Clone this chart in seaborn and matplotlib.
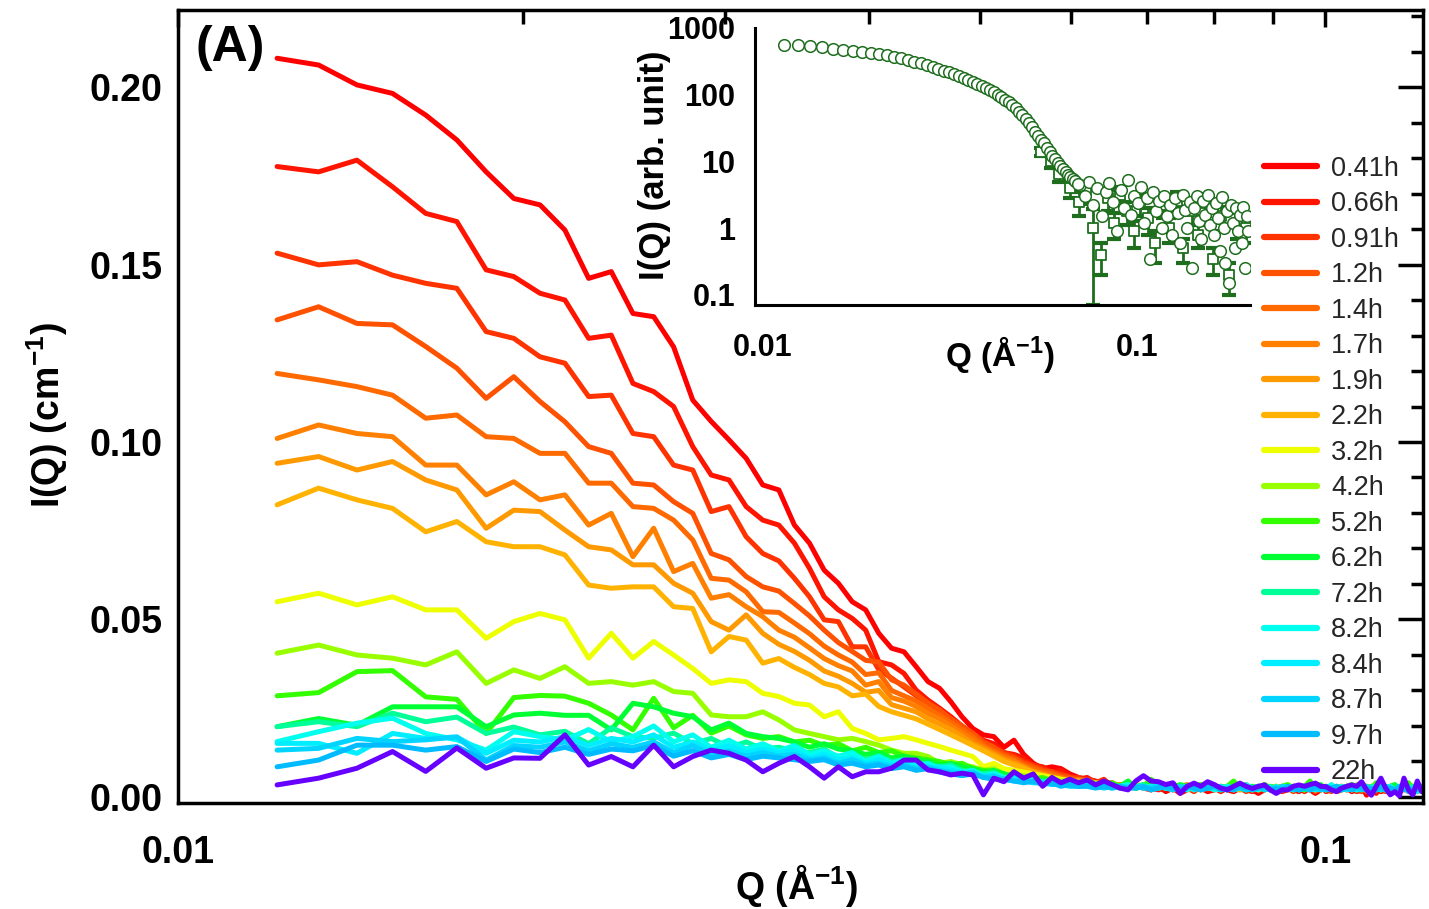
import numpy as np
import pandas as pd
import matplotlib
matplotlib.use("Agg")
import matplotlib.pyplot as plt
import seaborn as sns
from matplotlib.lines import Line2D
from matplotlib.ticker import FixedLocator, MultipleLocator, NullFormatter, NullLocator

sns.set_theme(style="white")
plt.rcParams['font.family'] = ['Liberation Sans', 'DejaVu Sans']
plt.rcParams['mathtext.fontset'] = 'custom'
plt.rcParams['mathtext.rm'] = 'Liberation Sans:bold'
plt.rcParams['mathtext.it'] = 'Liberation Sans:bold'
plt.rcParams['mathtext.bf'] = 'Liberation Sans:bold'
plt.rcParams['mathtext.default'] = 'rm'

# ---------------- main panel data (Q in 1/A, I in 1e-3 cm^-1) ----------------
Q = [0.01220, 0.01326, 0.01432, 0.01538, 0.01644, 0.01750, 0.01856, 0.01962, 0.02068, 0.02174,
     0.02280, 0.02386, 0.02492, 0.02598, 0.02704, 0.02810, 0.02916, 0.03022, 0.03128, 0.03234,
     0.03340, 0.03446, 0.03552, 0.03658, 0.03764, 0.03870, 0.03976, 0.04082, 0.04188, 0.04294,
     0.04400, 0.04506, 0.04612, 0.04718, 0.04824, 0.04930, 0.05036, 0.05142, 0.05248, 0.05354,
     0.05460, 0.05566, 0.05672, 0.05778, 0.05884, 0.05990, 0.06096, 0.06202, 0.06308, 0.06414,
     0.06520, 0.06626, 0.06732, 0.06838, 0.06944, 0.07050, 0.07156, 0.07262, 0.07368, 0.07474,
     0.07580, 0.07686, 0.07792, 0.07898, 0.08004, 0.08110, 0.08216, 0.08322, 0.08428, 0.08534,
     0.08640, 0.08746, 0.08852, 0.08958, 0.09064, 0.09170, 0.09276, 0.09382, 0.09488, 0.09594,
     0.09700, 0.09806, 0.09912, 0.10018, 0.10124, 0.10230, 0.10336, 0.10442, 0.10548, 0.10654,
     0.10760, 0.10866, 0.10972, 0.11078, 0.11184, 0.11290, 0.11396, 0.11502, 0.11608, 0.11714,
     0.11820, 0.11926, 0.12032, 0.12138]

times = ['0.41h', '0.66h', '0.91h', '1.2h', '1.4h', '1.7h', '1.9h', '2.2h', '3.2h',
         '4.2h', '5.2h', '6.2h', '7.2h', '8.2h', '8.4h', '8.7h', '9.7h', '22h']

colors = ['#ff0000', '#ff1400', '#ff3300', '#ff5200', '#ff6a00', '#ff8000', '#ff9900',
          '#ffb300', '#eeff00', '#99ff00', '#33ff00', '#00ff33', '#00ff99', '#00ffee',
          '#00eeff', '#00d4ff', '#00bbff', '#6600ff']

i_041 = [208.1, 206.2, 200.6, 198.2, 192.1, 185.1, 176.1, 168.6, 166.8, 159.7,
         146.1, 148.0, 136.2, 135.3, 126.8, 111.8, 105.8, 100.6, 95.4, 87.9,
         86.5, 76.6, 71.5, 63.9, 60.2, 55.0, 52.7, 46.1, 41.9, 40.9,
         36.7, 32.5, 30.6, 26.8, 22.6, 19.3, 17.5, 17.0, 14.0, 16.0,
         12.0, 9.5, 8.0, 8.5, 8.0, 6.5,
         5.5, 5.0, 4.5, 3.5, 4.0, 2.5, 3.0, 3.5, 2.5, 2.0,
         3.0, 1.5, 2.5, 1.0, 2.0, 3.0, 2.5, 1.5, 2.0, 3.0,
         2.0, 1.5, 2.5, 3.0, 2.0, 1.0, 2.0, 2.5, 1.5, 2.0,
         3.0, 2.0, 1.5, 2.5, 2.0, 1.0, 2.0, 2.5, 3.0, 1.5,
         2.0, 2.5, 1.5, 2.0, 3.0, 0.5, 2.0, 2.5, 1.5, 2.0,
         3.0, 2.0, 1.5, 2.5, 2.0, 1.0, 2.5, 2.0]
i_066 = [177.6, 176.1, 179.4, 171.9, 164.4, 162.1, 148.5, 146.6, 141.9, 140.0,
         129.2, 130.1, 116.5, 114.2, 110.0, 98.7, 90.7, 89.3, 81.8, 78.0,
         76.6, 71.5, 64.4, 56.4, 52.7, 50.3, 47.0, 38.1, 37.2, 34.8,
         30.1, 27.3, 25.0, 22.6, 20.0, 18.0, 16.0, 15.0, 12.5, 12.0,
         11.0, 9.0, 8.5, 7.0, 7.5, 6.0,
         5.0, 5.5, 4.0, 4.5, 3.5, 3.0, 2.5, 3.5, 3.0, 2.5,
         2.0, 2.5, 3.0, 1.5, 2.5, 2.0, 3.0, 2.0, 2.5, 1.5,
         2.5, 2.0, 3.0, 2.0, 1.5, 2.5, 3.0, 2.0, 2.5, 1.5,
         2.0, 3.0, 2.5, 1.5, 2.5, 2.0, 3.0, 1.5, 2.0, 2.5,
         3.0, 2.0, 2.5, 1.5, 2.0, 3.0, 2.5, 1.0, 2.5, 3.0,
         2.0, 2.5, 1.5, 3.0, 2.0, 2.5, 1.5, 2.5]
i_091 = [153.2, 149.9, 150.8, 147.0, 144.7, 143.3, 131.1, 129.2, 124.0, 122.2,
         112.8, 113.2, 102.4, 101.5, 93.5, 92.1, 80.4, 81.8, 73.3, 68.6,
         66.5, 61.6, 56.4, 49.9, 49.4, 42.3, 42.3, 35.8, 33.5, 31.0,
         28.5, 26.0, 24.0, 22.0, 19.5, 17.5, 15.5, 14.0, 12.5, 11.5,
         10.0, 9.0, 8.0, 7.0, 6.5, 5.5,
         5.5, 4.5, 4.0, 5.0, 3.0, 3.5, 3.0, 2.5, 3.5, 2.0,
         3.0, 2.5, 2.0, 3.0, 2.5, 1.5, 3.0, 2.5, 2.0, 3.0,
         2.0, 3.0, 2.5, 1.5, 2.5, 3.0, 2.0, 2.5, 3.0, 2.0,
         2.5, 1.5, 3.0, 2.5, 2.0, 3.0, 2.0, 2.5, 1.5, 3.0,
         2.5, 2.0, 3.0, 2.0, 1.5, 2.5, 3.0, 2.0, 2.5, 1.5,
         2.5, 3.0, 2.0, 2.5, 1.5, 3.0, 2.0, 2.5]
i_12 = [134.4, 138.1, 133.4, 133.0, 126.9, 120.8, 112.3, 118.4, 111.4, 105.7,
        98.7, 96.8, 88.4, 87.9, 83.2, 79.9, 68.6, 66.8, 62.1, 59.2,
        58.0, 54.5, 51.0, 47.0, 43.5, 41.0, 38.5, 38.0, 33.0, 31.5,
        29.0, 26.5, 24.5, 22.0, 20.0, 18.0, 15.5, 14.0, 12.0, 11.0,
        9.5, 8.5, 7.5, 7.0, 6.0, 5.5,
        4.5, 5.0, 4.0, 3.5, 4.0, 3.0, 3.5, 2.5, 3.0, 3.5,
        2.5, 3.0, 2.0, 3.0, 2.5, 3.0, 2.0, 3.5, 2.5, 2.0,
        3.0, 2.5, 2.0, 3.0, 2.5, 2.0, 3.5, 2.5, 2.0, 3.0,
        2.5, 3.0, 2.0, 2.5, 3.0, 1.5, 2.5, 3.0, 2.0, 2.5,
        3.0, 2.5, 2.0, 3.0, 2.5, 1.5, 3.0, 2.5, 2.0, 3.0,
        2.0, 2.5, 3.0, 2.0, 2.5, 3.0, 1.5, 2.5]
i_14 = [119.3, 117.5, 115.6, 113.2, 106.7, 107.6, 101.5, 101.0, 96.8, 96.8,
        88.4, 88.4, 81.8, 81.3, 78.0, 72.4, 61.6, 61.1, 57.8, 52.2,
        52.0, 49.0, 46.0, 42.5, 40.0, 38.0, 34.5, 35.0, 30.0, 28.5,
        27.0, 25.0, 23.0, 21.0, 19.0, 17.0, 14.5, 13.0, 11.5, 10.5,
        9.0, 8.0, 7.0, 6.5, 5.5, 5.0,
        5.0, 4.5, 4.0, 4.0, 3.5, 3.5, 3.0, 3.5, 2.5, 3.0,
        3.0, 2.5, 3.5, 2.5, 2.0, 3.0, 2.5, 3.0, 2.0, 2.5,
        3.0, 2.0, 2.5, 3.5, 2.0, 2.5, 3.0, 2.0, 2.5, 3.0,
        2.0, 2.5, 3.0, 2.0, 3.0, 2.5, 2.0, 3.0, 2.5, 2.0,
        2.5, 3.0, 2.0, 2.5, 3.0, 2.0, 2.5, 3.0, 2.0, 2.5,
        3.0, 2.0, 2.5, 3.0, 2.0, 2.5, 3.0, 2.0]
i_17 = [101.0, 104.8, 102.4, 101.5, 93.5, 93.5, 85.1, 88.8, 83.7, 85.1,
        76.6, 79.9, 67.7, 75.7, 63.5, 65.8, 56.0, 57.0, 53.6, 50.8,
        47.0, 45.0, 42.0, 39.0, 37.0, 35.5, 31.5, 32.5, 28.0, 27.0,
        25.5, 23.5, 22.0, 20.0, 18.0, 16.0, 14.0, 12.5, 11.0, 10.0,
        8.5, 7.5, 6.5, 6.0, 5.5, 4.5,
        4.5, 4.5, 4.0, 3.5, 3.5, 3.0, 3.5, 3.0, 2.5, 3.5,
        2.5, 3.0, 2.5, 3.0, 3.5, 2.5, 2.0, 3.0, 2.5, 3.0,
        2.5, 2.0, 3.0, 2.5, 3.0, 2.0, 2.5, 3.0, 2.5, 2.0,
        3.0, 2.5, 2.0, 3.0, 2.5, 3.0, 2.0, 2.5, 3.0, 2.0,
        2.5, 3.0, 2.5, 2.0, 3.0, 2.5, 2.0, 3.0, 2.5, 2.0,
        3.0, 2.5, 2.0, 3.0, 2.5, 2.0, 3.0, 2.5]
i_19 = [94.0, 95.9, 92.1, 94.5, 89.3, 86.5, 75.7, 80.8, 80.4, 75.2,
        70.5, 69.6, 65.4, 65.4, 60.2, 57.4, 49.4, 47.0, 51.3, 46.1,
        43.0, 41.0, 38.5, 35.5, 34.0, 32.0, 29.5, 30.0, 26.0, 25.0,
        24.0, 22.0, 20.5, 19.0, 17.0, 15.0, 13.5, 12.0, 10.5, 9.5,
        8.5, 7.0, 6.5, 5.5, 5.0, 4.5,
        4.5, 4.0, 4.0, 3.5, 3.0, 3.5, 3.0, 3.0, 2.5, 3.0,
        3.5, 2.5, 3.0, 2.5, 3.0, 2.0, 3.0, 2.5, 3.0, 2.5,
        2.0, 3.0, 2.5, 3.0, 2.0, 3.0, 2.5, 2.0, 3.0, 2.5,
        3.0, 2.0, 2.5, 3.0, 2.0, 2.5, 3.0, 2.5, 2.0, 3.0,
        2.5, 2.0, 3.0, 2.5, 3.0, 2.0, 2.5, 3.0, 2.0, 2.5,
        3.0, 2.0, 2.5, 3.0, 2.5, 2.0, 3.0, 2.5]
i_22 = [82.3, 87.0, 83.7, 81.3, 74.7, 77.6, 71.9, 70.5, 70.5, 68.2,
        59.7, 58.8, 59.2, 59.2, 53.6, 53.1, 40.9, 45.2, 44.2, 37.7,
        39.0, 36.5, 34.5, 32.0, 31.0, 28.5, 29.0, 25.5, 24.0, 23.0,
        22.0, 20.5, 19.0, 17.5, 16.0, 14.5, 13.0, 11.5, 10.0, 9.0,
        8.0, 7.0, 6.0, 5.5, 5.0, 4.5,
        4.5, 4.0, 3.5, 3.5, 3.0, 3.0, 3.5, 2.5, 3.0, 3.0,
        2.5, 3.0, 3.5, 2.5, 2.5, 3.0, 2.0, 3.0, 2.5, 2.5,
        3.0, 2.5, 2.0, 3.0, 2.5, 3.0, 2.0, 2.5, 3.0, 2.5,
        2.0, 3.0, 2.5, 2.0, 3.0, 2.5, 3.0, 2.0, 2.5, 3.0,
        2.0, 2.5, 3.0, 2.5, 2.0, 3.0, 2.5, 2.0, 3.0, 2.5,
        2.0, 3.0, 2.5, 2.0, 3.0, 2.5, 2.0, 3.0]
i_32 = [55.0, 57.4, 54.1, 56.4, 52.7, 52.7, 44.7, 49.4, 51.7, 49.9,
        39.1, 46.1, 39.1, 43.8, 40.0, 36.2, 32.0, 33.0, 32.5, 29.2,
        28.3, 26.4, 25.9, 22.6, 24.0, 19.3, 17.9, 16.1, 16.5, 17.0,
        16.1, 15.1, 14.2, 13.2, 12.3, 11.4, 8.5, 9.5, 8.0, 7.5,
        7.0, 6.5, 6.0, 5.5, 5.0, 4.5,
        4.0, 4.5, 3.5, 3.0, 3.5, 3.0, 2.5, 3.5, 3.0, 2.5,
        3.0, 3.5, 2.5, 3.0, 2.0, 3.0, 2.5, 3.0, 2.5, 2.0,
        3.0, 2.5, 3.5, 2.5, 2.0, 3.0, 2.5, 2.0, 3.0, 2.5,
        3.0, 2.0, 2.5, 3.0, 2.5, 2.0, 3.0, 2.5, 3.0, 2.0,
        2.5, 3.0, 2.0, 2.5, 3.0, 2.5, 2.0, 3.0, 2.5, 2.0,
        3.0, 2.5, 2.0, 3.0, 2.5, 3.0, 2.0, 2.5]
i_42 = [40.5, 42.8, 40.0, 39.1, 37.2, 40.9, 32.0, 35.8, 33.4, 36.7,
        32.0, 32.5, 31.5, 32.5, 29.7, 29.2, 23.1, 22.6, 22.6, 24.0,
        21.7, 18.9, 17.9, 17.0, 16.1, 16.5, 15.6, 14.6, 13.2, 12.3,
        12.3, 11.4, 9.5, 10.0, 9.0, 8.5, 7.5, 8.0, 6.5, 6.0,
        6.0, 5.5, 5.0, 5.0, 4.5, 4.5,
        4.0, 3.5, 4.0, 3.0, 3.5, 3.0, 3.0, 2.5, 3.5, 3.0,
        2.5, 3.0, 3.5, 2.5, 3.0, 2.5, 3.5, 2.5, 3.0, 2.5,
        2.0, 3.0, 2.5, 3.0, 2.5, 2.0, 3.5, 2.5, 3.0, 2.0,
        2.5, 3.0, 2.5, 2.0, 3.0, 3.5, 2.5, 2.0, 3.0, 2.5,
        3.0, 2.0, 2.5, 3.5, 2.5, 2.0, 3.0, 2.5, 2.0, 3.0,
        2.5, 3.0, 2.0, 2.5, 3.5, 2.0, 2.5, 3.0]
i_52 = [28.5, 29.4, 35.3, 35.6, 28.2, 27.5, 17.9, 28.0, 28.6, 28.4,
        26.4, 23.1, 18.9, 27.8, 19.5, 23.0, 18.0, 20.0, 17.5, 16.5,
        17.0, 15.5, 16.0, 14.5, 15.0, 13.0, 14.0, 12.5, 13.0, 11.5,
        11.0, 10.5, 10.0, 9.0, 9.5, 8.0, 7.5, 7.0, 6.5, 6.0,
        5.5, 5.0, 5.5, 4.5, 4.0, 4.5,
        4.0, 4.5, 3.5, 3.0, 4.0, 3.0, 3.5, 2.5, 3.0, 5.0,
        3.0, 2.5, 3.5, 3.0, 2.5, 3.0, 3.5, 2.5, 3.0, 2.5,
        3.0, 4.5, 2.5, 3.0, 2.5, 3.0, 2.0, 3.0, 2.5, 3.0,
        3.5, 2.5, 2.0, 3.0, 4.5, 2.5, 3.0, 2.5, 2.0, 3.0,
        2.5, 3.0, 3.5, 2.5, 2.0, 3.0, 2.5, 4.0, 2.5, 2.0,
        3.0, 2.5, 2.0, 3.0, 4.0, 2.5, 2.0, 3.0]
i_62 = [19.8, 22.1, 20.2, 25.4, 25.4, 25.4, 19.8, 23.1, 23.6, 23.0,
        23.0, 18.9, 26.4, 25.4, 23.6, 22.6, 18.9, 20.8, 17.9, 17.0,
        16.5, 15.5, 14.0, 15.0, 13.5, 13.0, 12.0, 12.5, 11.0, 11.5,
        10.5, 10.0, 9.0, 9.5, 8.5, 8.0, 7.0, 7.5, 6.5, 5.5,
        5.5, 5.0, 4.5, 5.0, 4.0, 4.0,
        3.5, 4.0, 3.5, 3.0, 3.5, 3.0, 4.5, 2.5, 3.0, 3.5,
        2.5, 3.0, 2.5, 3.5, 3.0, 2.5, 3.0, 4.0, 2.5, 3.0,
        2.5, 3.0, 2.5, 2.0, 3.0, 2.5, 3.5, 2.5, 2.0, 3.0,
        2.5, 3.0, 2.5, 2.0, 3.0, 2.5, 3.5, 2.0, 2.5, 3.0,
        2.0, 2.5, 3.0, 2.5, 4.0, 2.5, 2.0, 3.0, 2.5, 2.0,
        3.0, 3.5, 2.0, 2.5, 3.0, 2.0, 3.5, 2.5]
i_72 = [19.8, 21.2, 19.8, 23.6, 21.2, 22.5, 17.9, 19.7, 17.5, 18.5,
        15.0, 19.5, 17.0, 16.5, 18.0, 15.0, 16.5, 14.0, 15.5, 13.5,
        14.0, 13.0, 12.5, 13.5, 11.0, 12.0, 10.5, 11.5, 10.0, 10.5,
        9.5, 9.0, 8.5, 9.0, 7.5, 7.0, 6.5, 7.0, 5.5, 5.0,
        5.0, 4.5, 4.5, 4.0, 3.5, 4.0,
        3.5, 3.5, 3.0, 3.5, 3.0, 3.0, 2.5, 3.0, 3.5, 2.5,
        3.0, 2.5, 3.0, 2.0, 3.0, 3.5, 2.5, 3.0, 2.5, 2.0,
        3.0, 2.5, 3.0, 2.5, 2.0, 3.0, 2.5, 3.0, 2.0, 2.5,
        3.0, 2.5, 2.0, 3.0, 2.5, 3.0, 2.0, 2.5, 3.0, 2.5,
        2.0, 3.0, 2.5, 2.0, 3.0, 2.5, 3.0, 2.0, 2.5, 3.0,
        2.5, 2.0, 3.0, 2.5, 2.0, 3.0, 2.5, 2.0]
i_82 = [15.6, 18.4, 20.8, 22.2, 17.9, 16.1, 13.2, 18.4, 17.0, 16.0,
        19.0, 15.5, 17.0, 20.0, 15.5, 17.5, 14.0, 16.0, 13.5, 15.0,
        13.0, 14.5, 12.0, 13.0, 11.5, 12.5, 10.0, 11.5, 9.5, 10.5,
        9.0, 9.5, 8.0, 8.5, 7.0, 7.5, 6.0, 6.5, 5.5, 5.0,
        4.5, 5.0, 4.0, 4.5, 3.5, 4.0,
        3.5, 3.0, 3.5, 3.0, 2.5, 3.0, 3.5, 2.5, 3.0, 2.5,
        3.5, 2.5, 3.0, 2.5, 2.0, 3.0, 2.5, 3.0, 2.0, 2.5,
        3.0, 2.0, 2.5, 3.5, 2.5, 2.0, 3.0, 2.5, 2.0, 3.0,
        2.5, 2.0, 3.0, 2.5, 2.0, 3.0, 2.5, 2.0, 3.5, 2.5,
        2.0, 3.0, 2.5, 2.0, 3.0, 2.0, 2.5, 3.0, 2.0, 2.5,
        3.0, 2.0, 2.5, 3.0, 2.0, 2.5, 1.5, 2.5]
i_84 = [15.1, 15.1, 12.3, 17.9, 16.5, 16.9, 12.3, 16.0, 15.5, 17.0,
        14.5, 16.5, 15.5, 17.5, 14.0, 15.5, 13.0, 14.5, 12.5, 13.5,
        12.5, 13.0, 11.0, 12.0, 10.5, 11.0, 9.5, 10.5, 9.0, 9.5,
        8.5, 8.0, 8.5, 7.5, 7.0, 6.5, 6.0, 6.0, 5.0, 5.5,
        4.5, 4.5, 4.0, 4.0, 3.5, 3.5,
        3.5, 3.5, 3.0, 3.0, 3.0, 2.5, 3.0, 3.0, 2.5, 3.0,
        2.5, 3.0, 2.5, 2.5, 3.0, 2.0, 3.0, 2.5, 2.5, 3.0,
        2.0, 2.5, 3.0, 2.0, 2.5, 3.0, 2.5, 2.0, 3.0, 2.0,
        2.5, 3.0, 2.0, 2.5, 3.0, 2.0, 2.5, 3.0, 2.0, 2.5,
        3.0, 2.0, 2.5, 2.0, 3.0, 2.5, 2.0, 2.5, 3.0, 2.0,
        2.5, 2.0, 3.0, 2.5, 2.0, 2.5, 3.0, 2.0]
i_87 = [13.2, 13.7, 16.5, 15.6, 16.1, 16.9, 10.4, 14.5, 14.0, 15.5,
        13.0, 15.0, 14.0, 15.5, 12.5, 14.5, 12.0, 13.0, 11.5, 12.5,
        11.5, 12.0, 10.5, 11.0, 9.5, 10.5, 9.0, 9.5, 8.5, 9.0,
        8.0, 8.5, 7.5, 7.0, 6.5, 7.0, 5.5, 6.0, 5.0, 4.5,
        4.5, 4.0, 4.0, 3.5, 3.5, 3.0,
        3.0, 3.5, 3.0, 2.5, 3.0, 3.0, 2.5, 3.0, 2.5, 2.5,
        3.0, 2.5, 2.0, 3.0, 2.5, 3.0, 2.0, 2.5, 3.0, 2.5,
        2.0, 3.0, 2.5, 2.0, 2.5, 3.0, 2.0, 2.5, 2.0, 3.0,
        2.5, 2.0, 2.5, 3.0, 2.0, 2.5, 2.0, 3.0, 2.5, 2.0,
        2.5, 3.0, 2.0, 2.5, 2.0, 3.0, 2.0, 2.5, 2.0, 3.0,
        2.5, 2.0, 2.5, 3.0, 1.5, 2.5, 2.0, 2.5]
i_97 = [8.5, 10.4, 14.6, 14.6, 13.2, 14.2, 10.0, 13.5, 12.5, 14.0,
        12.0, 13.5, 13.0, 14.5, 11.5, 13.0, 11.0, 12.0, 10.5, 11.5,
        11.0, 10.5, 10.0, 10.5, 9.0, 9.5, 8.5, 9.0, 8.0, 8.5,
        7.5, 8.0, 7.0, 6.5, 6.0, 6.5, 5.5, 5.0, 5.0, 4.5,
        4.0, 4.5, 3.5, 4.0, 3.0, 3.5,
        3.0, 3.0, 2.5, 3.0, 2.5, 3.0, 2.5, 2.5, 3.0, 2.0,
        2.5, 3.0, 2.5, 2.0, 3.0, 2.5, 2.0, 2.5, 3.0, 2.0,
        2.5, 2.0, 3.0, 2.5, 2.0, 2.5, 3.0, 2.0, 2.5, 2.0,
        3.0, 2.5, 2.0, 2.5, 2.0, 3.0, 2.5, 2.0, 2.5, 3.0,
        2.0, 2.5, 2.0, 3.0, 2.5, 2.0, 2.5, 2.0, 3.0, 2.0,
        2.5, 2.0, 3.0, 2.0, 2.5, 1.5, 2.5, 2.0]
i_220 = [3.4, 5.3, 8.1, 12.8, 7.2, 13.8, 8.1, 11.0, 10.9, 17.5,
         9.0, 11.4, 8.5, 14.6, 8.5, 11.4, 13.2, 12.3, 10.4, 7.1,
         9.5, 11.4, 8.5, 5.3, 8.5, 5.7, 7.1, 7.1, 8.1, 10.4,
         10.4, 7.6, 7.1, 6.2, 6.7, 6.2, 0.6, 5.3, 4.3, 7.1,
         5.3, 6.5, 3.0, 5.5, 4.0, 5.0,
         4.0, 4.8, 3.4, 4.5, 3.5, 2.5, 2.0, 4.5, 6.0, 4.5,
         4.3, 3.5, 4.0, 1.0, 3.0, 3.9, 3.0, 4.3, 3.5, 2.5,
         2.0, 3.0, 3.9, 3.0, 2.4, 3.0, 3.4, 2.0, 1.0, 2.0,
         2.0, 3.0, 3.4, 3.0, 3.5, 3.9, 3.0, 2.9, 2.0, 1.5,
         2.5, 3.0, 3.4, 3.0, 4.3, 2.0, 0.5, 3.0, 5.3, 2.5,
         0.6, 1.5, 0.3, 5.3, 2.0, 0.6, 4.5, 1.5]

series = [i_041, i_066, i_091, i_12, i_14, i_17, i_19, i_22, i_32,
          i_42, i_52, i_62, i_72, i_82, i_84, i_87, i_97, i_220]

# ---------------- inset data ----------------
q_in_low = [0.0114, 0.0124, 0.0134, 0.0144, 0.0154, 0.0164, 0.0174, 0.0184, 0.0194, 0.0204,
            0.0214, 0.0224, 0.0234, 0.0244, 0.0254, 0.0264, 0.0274, 0.0284, 0.0294, 0.0304,
            0.0314, 0.0324, 0.0334, 0.0344, 0.0354, 0.0364, 0.0374, 0.0384, 0.0394, 0.0404,
            0.0414, 0.0424, 0.0434, 0.0444, 0.0454, 0.0464, 0.0474, 0.0484, 0.0494, 0.0504,
            0.0514, 0.0524, 0.0534, 0.0544, 0.0554, 0.0564, 0.0574, 0.0584, 0.0594, 0.0604,
            0.0614, 0.0624, 0.0634, 0.0644, 0.0654, 0.0664, 0.0674, 0.0684, 0.0694]
i_in_low = [555, 552, 540, 515, 492, 470, 452, 433, 418, 405,
            392, 370, 350, 330, 312, 294, 277, 261, 245, 230,
            216, 203, 190, 178, 167, 156, 145, 135, 126, 117,
            109, 100, 92, 84, 77, 70, 63, 56, 49, 44,
            38, 33, 28, 24, 21, 19, 16, 14, 12, 11,
            9.6, 8.5, 7.6, 6.9, 6.3, 5.8, 5.4, 5.1, 4.6]
q_in_high = [0.0704, 0.0724, 0.0744, 0.0764, 0.0784, 0.0804, 0.0824, 0.0844, 0.0864, 0.0884,
             0.0904, 0.0924, 0.0944, 0.0964, 0.0984, 0.1004, 0.1024, 0.1044, 0.1064, 0.1084,
             0.1104, 0.1124, 0.1144, 0.1164, 0.1184, 0.1204, 0.1224, 0.1244, 0.1264, 0.1284,
             0.1304, 0.1324, 0.1344, 0.1364, 0.1384, 0.1404, 0.1424, 0.1444, 0.1464, 0.1484,
             0.1504, 0.1524, 0.1544, 0.1564, 0.1584, 0.1604, 0.1624, 0.1644, 0.1664, 0.1684,
             0.1704, 0.1724, 0.1744, 0.1764, 0.1784, 0.1804, 0.1824, 0.1844, 0.1864, 0.1884,
             0.1904, 0.1924, 0.1944, 0.1964, 0.1984]
i_in_high = [4.5, 3.0, 5.0, 2.2, 4.0, 1.5, 3.5, 4.8, 2.5, 0.9,
             3.8, 2.0, 5.2, 1.6, 3.0, 2.4, 4.2, 1.2, 2.8, 0.35,
             3.5, 1.8, 2.6, 1.0, 3.0, 1.5, 2.2, 0.8, 2.8, 1.7,
             0.6, 3.2, 1.9, 1.0, 2.5, 0.25, 2.0, 3.0, 1.3, 0.7,
             2.6, 1.6, 3.2, 1.1, 2.0, 0.8, 2.4, 1.4, 0.45, 2.9,
             1.0, 0.3, 1.8, 0.15, 2.2, 1.2, 0.5, 2.0, 0.9, 1.6,
             0.6, 2.1, 0.25, 1.5, 0.9]
q_sq = [0.0555, 0.0590, 0.0620, 0.0660, 0.0700, 0.0730, 0.0762, 0.0800, 0.0835, 0.0870,
        0.0900, 0.0940, 0.0980, 0.1020, 0.1070, 0.1120, 0.1170, 0.1220, 0.1280, 0.1330,
        0.1400, 0.1460, 0.1520, 0.1600, 0.1680, 0.1760, 0.1850, 0.1950]
i_sq = [14, 10, 6.5, 4.0, 2.5, 3.5, 1.0, 0.4, 2.8, 1.2,
        3.2, 1.8, 0.9, 2.4, 1.4, 0.6, 2.2, 1.0, 2.6, 0.5,
        1.8, 0.8, 2.4, 0.35, 1.5, 0.2, 1.2, 1.0]
err_sq = [2, 2, 1.5, 1.2, 1.0, 1.2, 0.93, 0.2, 1.0, 0.5,
          1.0, 0.7, 0.4, 0.9, 0.6, 0.3, 0.8, 0.4, 0.9, 0.2,
          0.7, 0.3, 0.9, 0.15, 0.6, 0.1, 0.5, 0.4]

main_ticks_x = [0.01, 0.1]
main_ticklabels_x = ['0.01', '0.1']
main_ticks_y = [0.0, 0.05, 0.10, 0.15, 0.20]
main_ticklabels_y = ['0.00', '0.05', '0.10', '0.15', '0.20']
inset_ticks_y = [0.1, 1, 10, 100, 1000]
inset_ticklabels_y = ['0.1', '1', '10', '100', '1000']

# ---------------- build figure ----------------
df = pd.DataFrame({
    'Q': np.tile(np.array(Q), len(times)),
    'I': np.concatenate([np.array(s) for s in series]) * 1e-3,
    'time': np.repeat(times, len(Q)),
})

fig = plt.figure(figsize=(14.29, 9.09), dpi=100)
fig.patch.set_facecolor('white')
ax = fig.add_axes([0.1246, 0.1166, 0.8712, 0.8724])
ax.set_facecolor('white')

sns.lineplot(data=df, x='Q', y='I', hue='time', hue_order=times, palette=colors,
             linewidth=3.6, ax=ax, legend=False, sort=False, estimator=None,
             errorbar=None)

ax.set_xscale('log')
ax.set_xlim(0.01, 0.1217)
ax.set_ylim(-0.0017, 0.2217)
ax.set_xticks(main_ticks_x, labels=main_ticklabels_x, fontsize=27, fontweight='bold')
ax.xaxis.set_minor_locator(FixedLocator([0.02, 0.03, 0.04, 0.05, 0.06, 0.07, 0.08, 0.09]))
ax.xaxis.set_minor_formatter(NullFormatter())
ax.set_yticks(main_ticks_y, labels=main_ticklabels_y, fontsize=27, fontweight='bold')
ax.yaxis.set_minor_locator(MultipleLocator(0.01))

for sp in ax.spines.values():
    sp.set_linewidth(2.5)
    sp.set_color('black')
    sp.set_visible(True)
ax.tick_params(axis='both', which='both', direction='in', top=True, right=True,
               width=2.5, color='black', labelcolor='black')
ax.tick_params(axis='y', which='major', length=18, pad=11)
ax.tick_params(axis='y', which='minor', length=9)
ax.tick_params(axis='x', which='major', length=12, pad=23)
ax.tick_params(axis='x', which='minor', length=10)

ax.set_xlabel('Q (Å$^{-1}$)', fontsize=27, fontweight='bold', color='black')
ax.xaxis.label.set_va('center')
ax.xaxis.set_label_coords(0.497, -0.1034)
ax.set_ylabel('I(Q) (cm$^{-1}$)', fontsize=27, fontweight='bold', color='black')
ax.yaxis.label.set_va('center')
ax.yaxis.set_label_coords(-0.105, 0.489)

ax.text(0.0137, 0.981, '(A)', transform=ax.transAxes, fontsize=36,
        fontweight='bold', va='top', ha='left', color='black')

handles = [Line2D([0], [0], color=c, lw=4.5) for c in colors]
ax.legend(handles, times, loc='upper left', bbox_to_anchor=(0.8845, 0.8285),
          bbox_transform=fig.transFigure, frameon=False, fontsize=19.5,
          handlelength=1.96, handletextpad=0.52, labelspacing=0.35,
          borderaxespad=0, borderpad=0)

# ---------------- inset ----------------
green = '#1e6e1e'
axi = fig.add_axes([0.5283, 0.6645, 0.3464, 0.3047])
axi.set_facecolor('none')
axi.set_xscale('log')
axi.set_yscale('log')
axi.errorbar(q_sq, i_sq, yerr=err_sq, fmt='none', ecolor=green, elinewidth=2,
             capsize=5, capthick=3, zorder=2)
sns.scatterplot(x=q_sq, y=i_sq, marker='s', s=60, facecolor='white', edgecolor=green,
                linewidth=1.3, ax=axi, zorder=3)
sns.scatterplot(x=q_in_high, y=i_in_high, marker='o', s=70, facecolor='white',
                edgecolor=green, linewidth=1.1, ax=axi, zorder=4)
sns.scatterplot(x=q_in_low, y=i_in_low, marker='o', s=70, facecolor='white',
                edgecolor=green, linewidth=1.1, ax=axi, zorder=4)
axi.set_xlim(0.00952, 0.2004)
axi.set_ylim(0.0708, 1000)
axi.spines['top'].set_visible(False)
axi.spines['right'].set_visible(False)
for k in ['left', 'bottom']:
    axi.spines[k].set_linewidth(2.2)
    axi.spines[k].set_color('black')
axi.set_yticks(inset_ticks_y, labels=inset_ticklabels_y, fontsize=22, fontweight='bold')
axi.yaxis.set_minor_locator(NullLocator())
axi.set_xticks(main_ticks_x, labels=main_ticklabels_x, fontsize=22, fontweight='bold')
axi.xaxis.set_minor_locator(FixedLocator([0.02, 0.03, 0.04, 0.05, 0.06, 0.07, 0.08,
                                          0.09, 0.2]))
axi.xaxis.set_minor_formatter(NullFormatter())
axi.tick_params(axis='both', which='both', direction='in', width=2.2, color='black',
                labelcolor='black')
axi.tick_params(axis='y', which='major', length=13, pad=14)
axi.tick_params(axis='x', which='both', length=8, pad=20)
axi.set_xlabel('Q (Å$^{-1}$)', fontsize=24, fontweight='bold', color='black')
axi.xaxis.label.set_va('center')
axi.xaxis.set_label_coords(0.495, -0.18)
axi.set_ylabel('I(Q) (arb. unit)', fontsize=25, fontweight='bold', color='black')
axi.yaxis.label.set_va('center')
axi.yaxis.set_label_coords(-0.202, 0.505)

fig.savefig('out.png', dpi=100, facecolor='white')
